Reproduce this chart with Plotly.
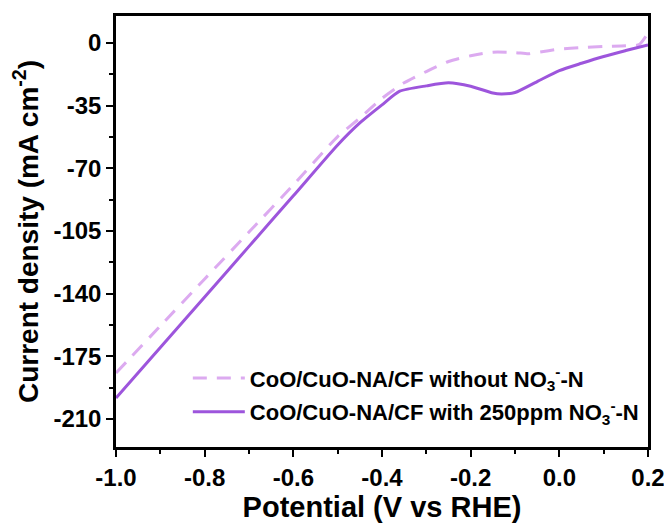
import plotly.graph_objects as go

# Potential (V vs RHE)
potential_with = [-1.0, -0.9, -0.8, -0.7, -0.6, -0.5, -0.45, -0.4, -0.36, -0.3, -0.25,
                  -0.2, -0.15, -0.13, -0.1, -0.05, 0.0, 0.05, 0.1, 0.15, 0.2]
current_with = [-198.3, -170.1, -141.9, -113.6, -85.4, -57.0, -44.7, -34.6, -27.0, -24.0, -22.3,
                -24.2, -28.0, -28.5, -27.7, -21.6, -15.5, -11.4, -7.6, -4.3, -1.1]

potential_without = [-1.0, -0.9, -0.8, -0.7, -0.6, -0.5, -0.45, -0.4, -0.35, -0.3, -0.25,
                     -0.2, -0.15, -0.1, -0.07, -0.05, 0.0, 0.05, 0.1, 0.15, 0.18, 0.2]
current_without = [-184.3, -158.0, -131.8, -105.6, -79.3, -52.3, -42.0, -31.0, -22.3, -16.0, -10.4,
                   -7.2, -5.2, -5.4, -6.1, -5.4, -3.5, -2.6, -2.0, -1.6, -1.0, 5.5]

name_without = "CoO/CuO-NA/CF without NO<sub>3</sub><sup>-</sup>-N"
name_with = "CoO/CuO-NA/CF with 250ppm NO<sub>3</sub><sup>-</sup>-N"

x_ticks = [-1.0, -0.8, -0.6, -0.4, -0.2, 0.0, 0.2]
x_ticklabels = ["-1.0", "-0.8", "-0.6", "-0.4", "-0.2", "0.0", "0.2"]
y_ticks = [0, -35, -70, -105, -140, -175, -210]
y_ticklabels = ["0", "-35", "-70", "-105", "-140", "-175", "-210"]

font_family = "Liberation Sans, Arial, sans-serif"

fig = go.Figure()
fig.add_trace(go.Scatter(
    x=potential_without, y=current_without, mode="lines", name=name_without,
    line=dict(color="#dcaaf0", width=3, dash="14px,10px", shape="spline", smoothing=0.6),
    legendgroup="a",
))
fig.add_trace(go.Scatter(
    x=potential_with, y=current_with, mode="lines", name=name_with,
    line=dict(color="#9d55dc", width=3, shape="spline", smoothing=0.6),
    legendgroup="b",
))

axis_common = dict(
    showline=True, linewidth=2.5, linecolor="black", mirror=True,
    ticks="outside", ticklen=7, tickwidth=2, tickcolor="black",
    showgrid=False, zeroline=False, automargin=False,
    tickfont=dict(family=font_family, size=24, color="black", weight="bold"),
)

fig.update_xaxes(
    range=[-1.0, 0.2], tickvals=x_ticks, ticktext=x_ticklabels,
    minor=dict(dtick=0.1, tick0=0, ticks="outside", ticklen=4, tickwidth=2, tickcolor="black"),
    title=dict(text="Potential (V vs RHE)", font=dict(family=font_family, size=29, color="black", weight="bold"), standoff=0),
    **axis_common,
)
fig.update_yaxes(
    range=[-225.6, 15], tickvals=y_ticks, ticktext=y_ticklabels,
    minor=dict(dtick=17.5, tick0=0, ticks="outside", ticklen=4, tickwidth=2, tickcolor="black"),
    title=dict(text="Current density (mA cm<sup>-2</sup>)", font=dict(family=font_family, size=28, color="black", weight="bold"), standoff=8),
    **axis_common,
)

fig.update_layout(
    width=664, height=517,
    margin=dict(l=108, r=24, t=8, b=78),
    paper_bgcolor="white", plot_bgcolor="white",
    showlegend=True,
    legend=dict(
        x=0.135, y=0.12, xanchor="left", yanchor="middle",
        bgcolor="rgba(0,0,0,0)", borderwidth=0,
        font=dict(family=font_family, size=22, color="black", weight="bold"),
        tracegroupgap=2, itemwidth=52,
    ),
)

fig.write_html("out.html")
